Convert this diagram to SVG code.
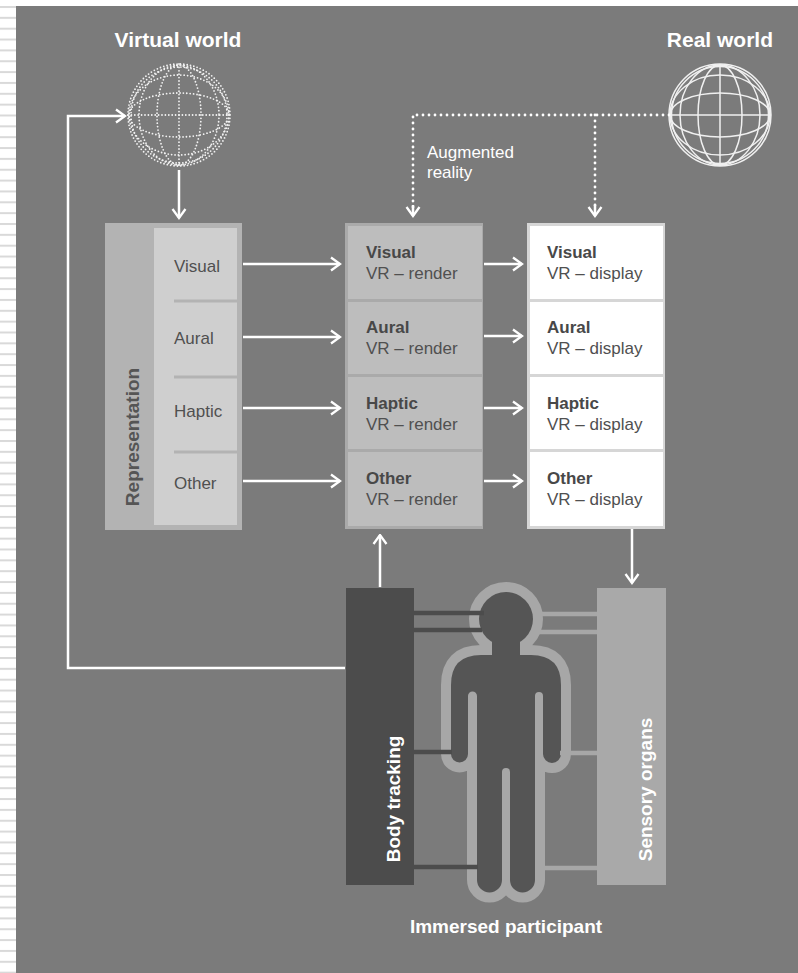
<svg xmlns="http://www.w3.org/2000/svg" width="798" height="973" viewBox="0 0 798 973">
<defs>
<pattern id="stripes" patternUnits="userSpaceOnUse" x="0" y="6" width="16" height="10.85">
<rect x="0" y="0" width="16" height="2" fill="#d9d9d9"/>
</pattern>
<marker id="ah" viewBox="0 0 12 16" refX="10.5" refY="8" markerWidth="12" markerHeight="16" markerUnits="userSpaceOnUse" orient="auto">
<path d="M1.5,1.5 L10.5,8 L1.5,14.5" fill="none" stroke="#ffffff" stroke-width="2.3" stroke-linejoin="miter"/>
</marker>
<style>
.t{font-family:"Liberation Sans",Arial,sans-serif;}
.title{font-size:21px;font-weight:bold;fill:#ffffff;}
.lab{font-size:17px;fill:#505050;}
.labb{font-size:17px;font-weight:bold;fill:#484848;}
.vert{font-size:19px;font-weight:bold;}
.conn{fill:none;stroke:#ffffff;stroke-width:2.5;}
.dot{fill:none;stroke:#ffffff;stroke-width:2.8;stroke-linecap:round;stroke-dasharray:0 6;}
.vglobe{fill:none;stroke:#f2f2f2;stroke-width:1.8;stroke-linecap:round;stroke-dasharray:0 3.4;}
.rglobe{fill:none;stroke:#f0f0f0;stroke-width:1.5;}
</style>
</defs>
<rect x="0" y="0" width="798" height="973" fill="#ffffff"/>
<rect x="0" y="0" width="16" height="973" fill="url(#stripes)"/>
<rect x="16" y="6" width="782" height="967" fill="#7b7b7b"/>

<g id="virtual-world">
<text class="t title" x="178" y="47" text-anchor="middle">Virtual world</text>
<circle class="vglobe" cx="179" cy="115" r="51"/>
<circle class="vglobe" cx="179" cy="115" r="48"/>
<ellipse class="vglobe" cx="179" cy="115" rx="22" ry="50"/>
<ellipse class="vglobe" cx="179" cy="115" rx="40" ry="50"/>
<ellipse class="vglobe" cx="179" cy="115" rx="50" ry="22"/>
<ellipse class="vglobe" cx="179" cy="115" rx="50" ry="40"/>
<line class="vglobe" x1="179" y1="64" x2="179" y2="166"/>
<line class="vglobe" x1="128" y1="115" x2="230" y2="115"/>
</g>

<g id="real-world">
<text class="t title" x="773" y="47" text-anchor="end">Real world</text>
<circle class="rglobe" cx="720" cy="115" r="51" stroke-width="1.8"/>
<circle class="rglobe" cx="720" cy="115" r="48.5" stroke-width="1"/>
<ellipse class="rglobe" cx="720" cy="115" rx="22" ry="50"/>
<ellipse class="rglobe" cx="720" cy="115" rx="40" ry="50"/>
<ellipse class="rglobe" cx="720" cy="115" rx="50" ry="22"/>
<ellipse class="rglobe" cx="720" cy="115" rx="50" ry="40"/>
<line class="rglobe" x1="720" y1="64" x2="720" y2="166"/>
<line class="rglobe" x1="669" y1="115" x2="771" y2="115"/>
</g>

<g id="augmented-label">
<text class="t" x="427" y="158" font-size="17" fill="#ffffff">Augmented</text>
<text class="t" x="427" y="178" font-size="17" fill="#ffffff">reality</text>
</g>

<g id="representation">
<rect x="105" y="223" width="137" height="307" fill="#b3b3b3"/>
<rect x="154" y="228" width="83" height="297" fill="#cfcfcf"/>
<g stroke="#b3b3b3" stroke-width="3">
<line x1="174" y1="301" x2="237" y2="301"/>
<line x1="174" y1="377" x2="237" y2="377"/>
<line x1="174" y1="452" x2="237" y2="452"/>
</g>
<text class="t lab" x="174" y="272">Visual</text>
<text class="t lab" x="174" y="344">Aural</text>
<text class="t lab" x="174" y="417">Haptic</text>
<text class="t lab" x="174" y="489">Other</text>
<text class="t vert" fill="#555555" transform="translate(139,437) rotate(-90)" text-anchor="middle">Representation</text>
</g>

<g id="render">
<rect x="345" y="223" width="138" height="306" fill="#aaaaaa"/>
<g fill="#bdbdbd">
<rect x="348" y="226" width="134" height="73"/>
<rect x="348" y="302" width="134" height="72"/>
<rect x="348" y="377" width="134" height="72"/>
<rect x="348" y="452" width="134" height="74"/>
</g>
<text class="t labb" x="366" y="258">Visual</text>
<text class="t lab" x="366" y="279">VR – render</text>
<text class="t labb" x="366" y="333">Aural</text>
<text class="t lab" x="366" y="354">VR – render</text>
<text class="t labb" x="366" y="409">Haptic</text>
<text class="t lab" x="366" y="430">VR – render</text>
<text class="t labb" x="366" y="484">Other</text>
<text class="t lab" x="366" y="505">VR – render</text>
</g>

<g id="display">
<rect x="527" y="223" width="138" height="306" fill="#d6d6d6"/>
<g fill="#ffffff">
<rect x="530" y="226" width="133" height="73"/>
<rect x="530" y="302" width="133" height="72"/>
<rect x="530" y="377" width="133" height="72"/>
<rect x="530" y="452" width="133" height="74"/>
</g>
<text class="t labb" x="547" y="258">Visual</text>
<text class="t lab" x="547" y="279">VR – display</text>
<text class="t labb" x="547" y="333">Aural</text>
<text class="t lab" x="547" y="354">VR – display</text>
<text class="t labb" x="547" y="409">Haptic</text>
<text class="t lab" x="547" y="430">VR – display</text>
<text class="t labb" x="547" y="484">Other</text>
<text class="t lab" x="547" y="505">VR – display</text>
</g>

<g id="body-tracking">
<rect x="346" y="588" width="68" height="297" fill="#4c4c4c"/>
<text class="t vert" fill="#ffffff" transform="translate(400,799) rotate(-90)" text-anchor="middle">Body tracking</text>
</g>

<g id="sensory-organs">
<rect x="597" y="588" width="69" height="297" fill="#a9a9a9"/>
<text class="t vert" fill="#ffffff" transform="translate(652,789.5) rotate(-90)" text-anchor="middle">Sensory organs</text>
</g>

<g id="participant">
<g fill="#a7a7a7" stroke="#a7a7a7" stroke-width="20" stroke-linejoin="round">
<circle cx="506" cy="619" r="27"/>
<rect x="492" y="640" width="28" height="20"/>
<path d="M451 754 L451 685 Q451 655 481 655 L531 655 Q561 655 561 685 L561 754 A9 9 0 0 1 543 754 L543 696 A4 4 0 0 0 535 696 L535 880 A12.5 12.5 0 0 1 510 880 L510 772 A4 4 0 0 0 502 772 L502 880 A12.5 12.5 0 0 1 477 880 L477 696 A4.5 4.5 0 0 0 468 696 L468 754 A8.5 8.5 0 0 1 451 754 Z"/>
</g>
<g fill="#555555">
<circle cx="506" cy="619" r="27"/>
<rect x="492" y="640" width="28" height="20"/>
<path d="M451 754 L451 685 Q451 655 481 655 L531 655 Q561 655 561 685 L561 754 A9 9 0 0 1 543 754 L543 696 A4 4 0 0 0 535 696 L535 880 A12.5 12.5 0 0 1 510 880 L510 772 A4 4 0 0 0 502 772 L502 880 A12.5 12.5 0 0 1 477 880 L477 696 A4.5 4.5 0 0 0 468 696 L468 754 A8.5 8.5 0 0 1 451 754 Z"/>
</g>
<text class="t" x="506" y="933" font-size="19" font-weight="bold" fill="#ffffff" text-anchor="middle">Immersed participant</text>
</g>

<g id="connectors">
<path class="conn" d="M345 668 L68 668 L68 116 L125 116" marker-end="url(#ah)"/>
<line class="conn" x1="179" y1="170" x2="179" y2="218" marker-end="url(#ah)"/>
<path class="dot" d="M669 115 L413 115 L413 211"/>
<line class="dot" x1="595" y1="115" x2="595" y2="211"/>
<line class="conn" x1="413" y1="205" x2="413" y2="216" marker-end="url(#ah)" stroke-width="0"/>
<line class="conn" x1="595" y1="205" x2="595" y2="216" marker-end="url(#ah)" stroke-width="0"/>
<line class="conn" x1="243" y1="264" x2="340" y2="264" marker-end="url(#ah)"/>
<line class="conn" x1="243" y1="337" x2="340" y2="337" marker-end="url(#ah)"/>
<line class="conn" x1="243" y1="408" x2="340" y2="408" marker-end="url(#ah)"/>
<line class="conn" x1="243" y1="481" x2="340" y2="481" marker-end="url(#ah)"/>
<line class="conn" x1="484" y1="264" x2="522" y2="264" marker-end="url(#ah)"/>
<line class="conn" x1="484" y1="336" x2="522" y2="336" marker-end="url(#ah)"/>
<line class="conn" x1="484" y1="408" x2="522" y2="408" marker-end="url(#ah)"/>
<line class="conn" x1="484" y1="481" x2="522" y2="481" marker-end="url(#ah)"/>
<line class="conn" x1="380" y1="587" x2="380" y2="535" marker-end="url(#ah)"/>
<line class="conn" x1="632" y1="529" x2="632" y2="583" marker-end="url(#ah)"/>
<g stroke="#4c4c4c" stroke-width="4.5">
<line x1="414" y1="613" x2="484" y2="613"/>
<line x1="414" y1="630" x2="482" y2="630"/>
<line x1="414" y1="752" x2="452" y2="752"/>
<line x1="414" y1="867" x2="478" y2="867"/>
</g>
<g stroke="#a7a7a7" stroke-width="4.5">
<line x1="535" y1="614" x2="597" y2="614"/>
<line x1="535" y1="632" x2="597" y2="632"/>
<line x1="560" y1="753" x2="597" y2="753"/>
<line x1="540" y1="868" x2="597" y2="868"/>
</g>
</g>
</svg>
